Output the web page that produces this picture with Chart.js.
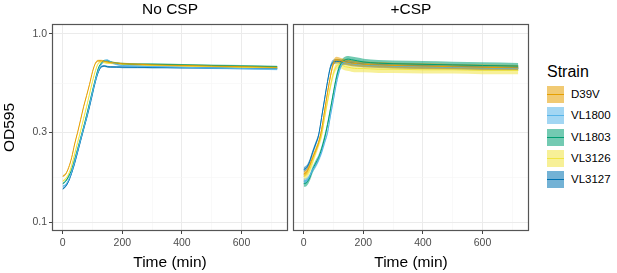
<!DOCTYPE html>
<html lang="en">
<head>
<meta charset="UTF-8">
<title>OD595 growth curves</title>
<script src="https://cdn.jsdelivr.net/npm/chart.js"></script>
<style>
    body { margin: 0; background: #fff; font-family: 'Liberation Sans', Arial, sans-serif; }
    .wrap { position: relative; width: 617px; height: 273px; overflow: hidden; }
    canvas { position: absolute; top: 0; }
    #left { left: 0; }
    #right { left: 292px; }
    .legend { position: absolute; left: 547px; top: 0; color: #000; }
    .legend .title { position: absolute; left: 0; top: 62px; font-size: 16px; line-height: 20px; white-space: nowrap; }
    .legend .item { position: absolute; left: 0; height: 18px; white-space: nowrap; }
    .legend .swatch { position: absolute; left: 0; top: 0; width: 17px; height: 17px; }
    .legend .swatch i { position: absolute; left: 0; right: 0; top: 8px; height: 1px; }
    .legend .label { position: absolute; left: 24px; top: 0; font-size: 11.5px; line-height: 17px; }
</style>
</head>
<body>
<div class="wrap">
    <canvas id="left" width="290" height="273"></canvas>
    <canvas id="right" width="239" height="273"></canvas>
    <div class="legend" id="legend"></div>
</div>
<script>
// strains and colours
const strains = ['D39V', 'VL1800', 'VL1803', 'VL3126', 'VL3127'];
const lineColors = ['#E69F00', '#56B4E9', '#009E73', '#F0E442', '#0072B2'];
const fillColors = ['rgba(230,159,0,0.55)', 'rgba(86,180,233,0.55)', 'rgba(0,158,115,0.55)',
                    'rgba(240,228,66,0.55)', 'rgba(0,114,178,0.55)'];

// sampling times (min)
const times = [0, 10, 20, 30, 40, 50, 60, 70, 80, 90, 100, 110, 120, 130, 140, 150, 160, 180, 200, 250, 300, 400, 500, 600, 720];

// No CSP: mean OD595 per strain
const noCspD39V   = [0.175, 0.18, 0.195, 0.22, 0.26, 0.30, 0.35, 0.41, 0.47, 0.54, 0.63, 0.70, 0.72, 0.72, 0.715, 0.71, 0.705, 0.70, 0.695, 0.69, 0.685, 0.68, 0.675, 0.67, 0.665];
const noCspVL1800 = [0.155, 0.158, 0.168, 0.185, 0.21, 0.24, 0.275, 0.315, 0.36, 0.42, 0.49, 0.57, 0.64, 0.69, 0.72, 0.725, 0.71, 0.69, 0.68, 0.675, 0.67, 0.665, 0.66, 0.655, 0.65];
const noCspVL1803 = [0.16, 0.165, 0.175, 0.19, 0.215, 0.245, 0.28, 0.32, 0.37, 0.43, 0.50, 0.58, 0.66, 0.70, 0.72, 0.72, 0.71, 0.70, 0.695, 0.69, 0.69, 0.685, 0.68, 0.675, 0.67];
const noCspVL3126 = [0.165, 0.17, 0.18, 0.20, 0.23, 0.265, 0.305, 0.355, 0.41, 0.48, 0.56, 0.64, 0.70, 0.71, 0.705, 0.70, 0.70, 0.695, 0.69, 0.685, 0.68, 0.675, 0.67, 0.665, 0.66];
const noCspVL3127 = [0.15, 0.155, 0.165, 0.182, 0.205, 0.235, 0.27, 0.31, 0.355, 0.41, 0.48, 0.56, 0.63, 0.67, 0.675, 0.67, 0.668, 0.667, 0.666, 0.665, 0.664, 0.662, 0.66, 0.658, 0.655];
const noCspSpread = [0.012, 0.012, 0.012, 0.012, 0.012];

// +CSP: mean OD595 per strain
const cspD39V   = [0.18, 0.185, 0.20, 0.22, 0.24, 0.265, 0.31, 0.39, 0.49, 0.60, 0.70, 0.73, 0.725, 0.715, 0.71, 0.705, 0.70, 0.695, 0.69, 0.685, 0.68, 0.675, 0.67, 0.665, 0.66];
const cspVL1800 = [0.165, 0.167, 0.175, 0.19, 0.20, 0.215, 0.235, 0.265, 0.30, 0.37, 0.45, 0.55, 0.64, 0.70, 0.705, 0.70, 0.695, 0.69, 0.685, 0.68, 0.675, 0.67, 0.665, 0.66, 0.655];
const cspVL1803 = [0.16, 0.162, 0.172, 0.19, 0.205, 0.22, 0.245, 0.28, 0.33, 0.40, 0.49, 0.59, 0.67, 0.71, 0.73, 0.735, 0.73, 0.72, 0.71, 0.70, 0.695, 0.69, 0.685, 0.68, 0.675];
const cspVL3126 = [0.175, 0.178, 0.19, 0.21, 0.235, 0.26, 0.29, 0.36, 0.44, 0.53, 0.62, 0.675, 0.69, 0.68, 0.67, 0.665, 0.66, 0.655, 0.655, 0.65, 0.65, 0.645, 0.645, 0.64, 0.64];
const cspVL3127 = [0.19, 0.195, 0.21, 0.235, 0.26, 0.29, 0.36, 0.45, 0.56, 0.67, 0.71, 0.715, 0.715, 0.71, 0.71, 0.705, 0.70, 0.695, 0.69, 0.685, 0.68, 0.675, 0.67, 0.665, 0.66];
const cspSpread = [0.035, 0.03, 0.04, 0.045, 0.03];

// axis ticks
const xMajor = [0, 200, 400, 600];
const xMinor = [100, 300, 500, 700];
const yMajor = [0.1, 0.3, 1.0];
const yMajorLabels = ['0.1', '0.3', '1.0'];
const yMinor = [0.1732, 0.5477];

Chart.defaults.font.family = "'Liberation Sans', Arial, sans-serif";

function makeDatasets(series, spread) {
    const sets = [];
    series.forEach((od, i) => {
        sets.push({
            data: times.map((t, k) => ({ x: t, y: od[k] * (1 + spread[i]) })),
            borderWidth: 0, pointRadius: 0, fill: '+1',
            backgroundColor: fillColors[i], order: 2, cubicInterpolationMode: 'monotone'
        });
        sets.push({
            data: times.map((t, k) => ({ x: t, y: od[k] * (1 - spread[i]) })),
            borderWidth: 0, pointRadius: 0, fill: false, order: 2, cubicInterpolationMode: 'monotone'
        });
    });
    series.forEach((od, i) => {
        sets.push({
            data: times.map((t, k) => ({ x: t, y: od[k] })),
            borderColor: lineColors[i], borderWidth: 1, pointRadius: 0, fill: false,
            order: 1, cubicInterpolationMode: 'monotone'
        });
    });
    return sets;
}

// panel border + facet strip label
const panelDeco = {
    id: 'panelDeco',
    afterDraw(chart, args, opts) {
        const { ctx, chartArea: a } = chart;
        ctx.save();
        ctx.strokeStyle = '#555';
        ctx.lineWidth = 1.2;
        ctx.strokeRect(a.left + 0.5, a.top + 0.5, a.right - a.left - 1, a.bottom - a.top - 1);
        ctx.fillStyle = '#000';
        ctx.font = "15.5px 'Liberation Sans', Arial, sans-serif";
        ctx.textAlign = 'center';
        ctx.textBaseline = 'middle';
        ctx.fillText(opts.text, (a.left + a.right) / 2, 10);
        ctx.restore();
    }
};

const isMajorX = v => xMajor.includes(v);
const isMajorY = v => yMajor.some(m => Math.abs(m - v) < 1e-6);

function makeChart(id, series, spread, facet, showY) {
    return new Chart(document.getElementById(id), {
        type: 'line',
        data: { datasets: makeDatasets(series, spread) },
        plugins: [panelDeco],
        options: {
            responsive: false,
            animation: false,
            devicePixelRatio: 1,
            layout: { padding: { top: 24, right: 2, left: showY ? 0 : 1, bottom: 0 } },
            plugins: { legend: { display: false }, tooltip: { enabled: false }, panelDeco: { text: facet } },
            scales: {
                x: {
                    type: 'linear', min: -36, max: 756,
                    afterBuildTicks: s => { s.ticks = xMajor.concat(xMinor).sort((a, b) => a - b).map(v => ({ value: v })); },
                    afterFit: s => { s.height = 42; },
                    ticks: {
                        autoSkip: false, maxRotation: 0, padding: 3, color: '#4d4d4d', font: { size: 10.5 },
                        callback: v => isMajorX(v) ? String(v) : ''
                    },
                    grid: {
                        color: c => isMajorX(c.tick.value) ? '#ebebeb' : '#f5f5f5',
                        lineWidth: c => isMajorX(c.tick.value) ? 1 : 0.6,
                        tickColor: c => isMajorX(c.tick.value) ? '#444' : 'rgba(0,0,0,0)',
                        tickLength: 3
                    },
                    border: { display: false },
                    title: { display: true, text: 'Time (min)', color: '#000', font: { size: 15.5 }, padding: { top: 0, bottom: 1 } }
                },
                y: {
                    type: 'logarithmic', min: 0.0896, max: 1.13,
                    afterBuildTicks: s => { s.ticks = yMajor.concat(yMinor).sort((a, b) => a - b).map(v => ({ value: v })); },
                    afterFit: s => { s.width = showY ? 52 : 0; },
                    ticks: {
                        display: showY, autoSkip: false, padding: 2, color: '#4d4d4d', font: { size: 10.5 },
                        callback: v => { const k = yMajor.findIndex(m => Math.abs(m - v) < 1e-6); return k >= 0 ? yMajorLabels[k] : ''; }
                    },
                    grid: {
                        color: c => isMajorY(c.tick.value) ? '#ebebeb' : '#f5f5f5',
                        lineWidth: c => isMajorY(c.tick.value) ? 1 : 0.6,
                        tickColor: c => isMajorY(c.tick.value) ? '#444' : 'rgba(0,0,0,0)',
                        tickLength: 3,
                        drawTicks: showY
                    },
                    border: { display: false },
                    title: { display: showY, text: 'OD595', color: '#000', font: { size: 15.5 }, padding: 0 }
                }
            }
        }
    });
}

makeChart('left', [noCspD39V, noCspVL1800, noCspVL1803, noCspVL3126, noCspVL3127], noCspSpread, 'No CSP', true);
makeChart('right', [cspD39V, cspVL1800, cspVL1803, cspVL3126, cspVL3127], cspSpread, '+CSP', false);

// legend
const legend = document.getElementById('legend');
legend.innerHTML = '<div class="title">Strain</div>' + strains.map((s, i) =>
    `<div class="item" style="top:${86 + i * 21.3}px"><div class="swatch" style="background:${fillColors[i]}"><i style="background:${lineColors[i]}"></i></div><div class="label">${s}</div></div>`
).join('');
</script>
</body>
</html>
